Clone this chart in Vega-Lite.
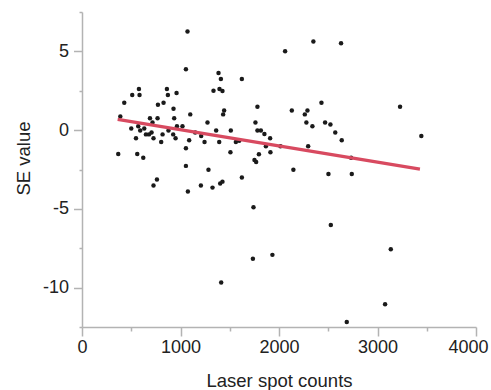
{
  "$schema": "https://vega.github.io/schema/vega-lite/v6.json",
  "autosize": {"type": "none"},
  "width": 394,
  "height": 315,
  "padding": {"left": 82, "top": 12, "right": 15, "bottom": 63},
  "background": "white",
  "config": {
    "view": {"stroke": null},
    "font": "Liberation Sans",
    "axis": {
      "grid": false,
      "domainColor": "#b3b3b3",
      "domainWidth": 1.5,
      "tickColor": "#b3b3b3",
      "tickWidth": 1.5,
      "labelColor": "#222222",
      "labelFont": "Liberation Sans",
      "labelFontSize": 18,
      "titleColor": "#222222",
      "titleFont": "Liberation Sans",
      "titleFontSize": 18.5,
      "titleFontWeight": "normal"
    }
  },
  "datasets": {
    "pts": [
      {"x": 1071, "y": 6.26}, {"x": 1055, "y": 3.87}, {"x": 429, "y": 1.74}, {"x": 510, "y": 2.23},
      {"x": 578, "y": 2.61}, {"x": 584, "y": 2.23}, {"x": 862, "y": 2.61}, {"x": 872, "y": 2.23},
      {"x": 960, "y": 2.36}, {"x": 828, "y": 1.74}, {"x": 771, "y": 1.61}, {"x": 929, "y": 1.36},
      {"x": 1099, "y": 1.0}, {"x": 389, "y": 0.87}, {"x": 690, "y": 0.75}, {"x": 767, "y": 0.75},
      {"x": 936, "y": 0.75}, {"x": 716, "y": 0.49}, {"x": 1274, "y": 0.49}, {"x": 500, "y": 0.11},
      {"x": 571, "y": 0.24}, {"x": 632, "y": 0.11}, {"x": 591, "y": -0.02}, {"x": 964, "y": 0.24},
      {"x": 1020, "y": 0.24}, {"x": 878, "y": -0.02}, {"x": 706, "y": -0.15}, {"x": 649, "y": -0.27},
      {"x": 680, "y": -0.27}, {"x": 818, "y": -0.27}, {"x": 926, "y": -0.27}, {"x": 1149, "y": -0.15},
      {"x": 548, "y": -0.51}, {"x": 726, "y": -0.51}, {"x": 950, "y": -0.51}, {"x": 1088, "y": -0.64},
      {"x": 1210, "y": -0.38}, {"x": 1244, "y": -0.76}, {"x": 804, "y": -0.76}, {"x": 1055, "y": -1.15},
      {"x": 368, "y": -1.51}, {"x": 561, "y": -1.51}, {"x": 622, "y": -1.76}, {"x": 1055, "y": -2.27},
      {"x": 1284, "y": -2.52}, {"x": 2062, "y": 5.01}, {"x": 2349, "y": 5.62}, {"x": 2630, "y": 5.51},
      {"x": 1386, "y": 3.63}, {"x": 1410, "y": 3.25}, {"x": 1623, "y": 3.25}, {"x": 1335, "y": 2.5},
      {"x": 1396, "y": 2.61}, {"x": 1426, "y": 2.48}, {"x": 1443, "y": 1.25}, {"x": 1433, "y": 1.0},
      {"x": 1781, "y": 1.48}, {"x": 2130, "y": 1.25}, {"x": 2289, "y": 1.25}, {"x": 2262, "y": 1.0},
      {"x": 2431, "y": 1.74}, {"x": 1761, "y": 0.49}, {"x": 2278, "y": 0.49}, {"x": 2339, "y": 0.24},
      {"x": 2468, "y": 0.49}, {"x": 2522, "y": 0.36}, {"x": 2571, "y": -0.15}, {"x": 1362, "y": -0.02},
      {"x": 1511, "y": -0.02}, {"x": 1781, "y": -0.02}, {"x": 1816, "y": -0.02}, {"x": 1852, "y": -0.25},
      {"x": 1910, "y": -0.51}, {"x": 1393, "y": -0.76}, {"x": 1562, "y": -0.76}, {"x": 1596, "y": -0.68},
      {"x": 1867, "y": -1.02}, {"x": 2015, "y": -1.02}, {"x": 2296, "y": -1.02}, {"x": 1507, "y": -1.4},
      {"x": 1913, "y": -1.4}, {"x": 1796, "y": -1.53}, {"x": 1751, "y": -1.89}, {"x": 1768, "y": -2.02},
      {"x": 2146, "y": -2.52}, {"x": 3229, "y": 1.48}, {"x": 2637, "y": -0.64}, {"x": 3445, "y": -0.38},
      {"x": 2732, "y": -1.76}, {"x": 761, "y": -3.14}, {"x": 726, "y": -3.52}, {"x": 1075, "y": -3.9},
      {"x": 1207, "y": -3.52}, {"x": 1325, "y": -3.65}, {"x": 1403, "y": -3.39}, {"x": 1426, "y": -3.27},
      {"x": 1623, "y": -3.01}, {"x": 2502, "y": -2.78}, {"x": 2739, "y": -2.78}, {"x": 1741, "y": -4.9},
      {"x": 2526, "y": -6.03}, {"x": 1735, "y": -8.17}, {"x": 1933, "y": -7.92}, {"x": 1413, "y": -9.68},
      {"x": 3135, "y": -7.56}, {"x": 3077, "y": -11.06}, {"x": 2688, "y": -12.18}
    ],
    "fit": [
      {"x": 362, "y": 0.69},
      {"x": 3431, "y": -2.47}
    ]
  },
  "resolve": {"axis": {"x": "independent", "y": "independent"}},
  "layer": [
    {
      "data": {"name": "pts"},
      "mark": {"type": "circle", "size": 20, "color": "#1a1a1a", "opacity": 1},
      "encoding": {
        "x": {
          "field": "x", "type": "quantitative",
          "scale": {"domain": [0, 4000], "nice": false, "zero": false},
          "axis": {
            "orient": "bottom",
            "title": "Laser spot counts",
            "values": [0, 1000, 2000, 3000, 4000],
            "format": "d",
            "tickSize": 9,
            "labelPadding": 2,
            "labelFlush": false,
            "labelOverlap": false,
            "labelOffset": {"condition": {"test": "datum.value === 4000", "value": -8}, "value": 0},
            "titleY": 59.5,
            "titleBaseline": "alphabetic"
          }
        },
        "y": {
          "field": "y", "type": "quantitative",
          "scale": {"domain": [-12.5, 7.5], "nice": false, "zero": false},
          "axis": {
            "orient": "left",
            "title": "SE value",
            "values": [-10, -5, 0, 5],
            "labelExpr": "'' + datum.value",
            "tickSize": 8.5,
            "labelPadding": 5,
            "labelFlush": false,
            "labelOverlap": false,
            "titleX": -52.4,
            "titleY": 146,
            "titleBaseline": "alphabetic",
            "titleAngle": -90
          }
        }
      }
    },
    {
      "data": {"name": "fit"},
      "mark": {"type": "line", "color": "#d84a60", "strokeWidth": 3.3, "strokeCap": "butt"},
      "encoding": {
        "x": {
          "field": "x", "type": "quantitative",
          "scale": {"domain": [0, 4000], "nice": false, "zero": false},
          "axis": {
            "orient": "bottom",
            "title": null,
            "values": [500, 1500, 2500, 3500],
            "labels": false,
            "domain": false,
            "tickSize": 4
          }
        },
        "y": {
          "field": "y", "type": "quantitative",
          "scale": {"domain": [-12.5, 7.5], "nice": false, "zero": false},
          "axis": {
            "orient": "left",
            "title": null,
            "values": [-12.5, -7.5, -2.5, 2.5, 7.5],
            "labels": false,
            "domain": false,
            "tickSize": 3
          }
        }
      }
    }
  ]
}
